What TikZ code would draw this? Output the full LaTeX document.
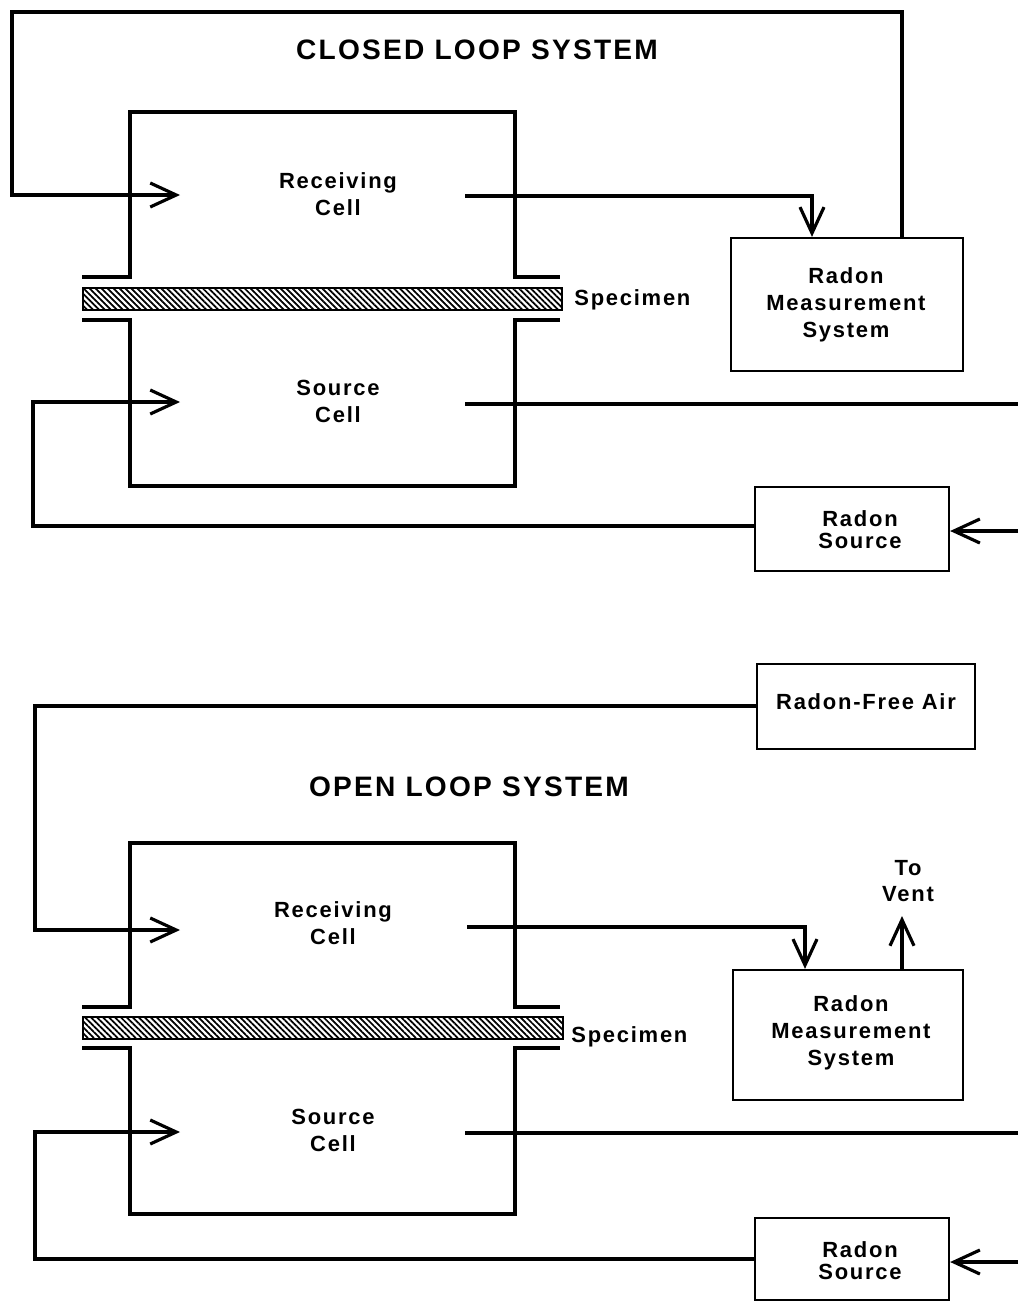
\documentclass[tikz,border=0pt]{standalone}
\usepackage{fontspec}
\setmainfont{Liberation Sans}[LetterSpace=8]
\usetikzlibrary{arrows.meta,patterns.meta}
\begin{document}
\begin{tikzpicture}[x=0.02cm,y=-0.02cm,
  wire/.style={line width=1.8pt, line join=miter},
  flow/.style={wire, -{Straight Barb[length=0.52cm,width=0.48cm]}},
  wall/.style={line width=1.8pt, line join=miter},
  box/.style={draw, line width=1.3pt, inner sep=0pt},
  lbl/.style={font=\fontsize{12.5pt}{15.3pt}\selectfont\bfseries, align=center, inner sep=0pt},
  ttl/.style={font=\fontsize{16pt}{19pt}\selectfont\bfseries, inner sep=0pt},
  spec/.style={draw, line width=1.2pt, pattern={Lines[angle=-45,distance=2.4pt,line width=1pt]}}
]
\useasboundingbox (0,0) rectangle (1018,1302);

% ================= CLOSED LOOP =================
\node[ttl] (t1) at (477,50) {CLOSED LOOP SYSTEM};

\draw[wall] (82,277) -- (130,277) -- (130,112) -- (515,112) -- (515,277) -- (560,277);
\draw[wall] (82,320) -- (130,320) -- (130,486) -- (515,486) -- (515,320) -- (560,320);
\draw[spec] (83,288) rectangle (562,310);
\node[lbl, anchor=west] (sp1) at (574,300) {Specimen};

\node[lbl] (rc1) at (338,194) {Receiving\\Cell};
\node[lbl] (sc1) at (338,401) {Source\\Cell};

\node[box, minimum width=4.64cm, minimum height=2.66cm] (ms1) at (847,304.5) {};
\node[lbl] (ms1t) at (846,305) {Radon\\Measurement\\System};

\node[box, minimum width=3.88cm, minimum height=1.68cm] (rs1) at (852,529) {};
\node[lbl, font=\fontsize{12.5pt}{12.5pt}\selectfont\bfseries] (rs1t) at (860,530) {Radon\\Source};

\coordinate (a1) at (180,195);
\coordinate (ro1) at (465,196);
\coordinate (b1) at (180,402);
\coordinate (so1) at (465,404);
\coordinate (e1) at (1018,404);
\coordinate (f1) at (1018,531);

\draw[flow] (ms1.north -| 902,0) -- (902,12) -- (12,12) -- (12,195) -- (a1);
\draw[flow] (ro1) -- (812,196) -- (ms1.north -| 812,0);
\draw[wire] (so1) -- (e1);
\draw[flow] (f1) -- (rs1.east |- f1);
\draw[flow] (rs1.west |- 0,526) -- (33,526) -- (33,402) -- (b1);

% ================= OPEN LOOP =================
\node[box, minimum width=4.36cm, minimum height=1.70cm] (rfa) at (866,706.5) {};
\node[lbl] (rfat) at (866,702) {Radon-Free Air};

\node[ttl] (t2) at (469,787) {OPEN LOOP SYSTEM};

\draw[wall] (82,1007) -- (130,1007) -- (130,843) -- (515,843) -- (515,1007) -- (560,1007);
\draw[wall] (82,1048) -- (130,1048) -- (130,1214) -- (515,1214) -- (515,1048) -- (560,1048);
\draw[spec] (83,1017) rectangle (563,1039);
\node[lbl, anchor=west] (sp2) at (571,1037) {Specimen};

\node[lbl] (rc2) at (333,923) {Receiving\\Cell};
\node[lbl] (sc2) at (333,1130) {Source\\Cell};

\node[box, minimum width=4.6cm, minimum height=2.6cm] (ms2) at (848,1035) {};
\node[lbl] (ms2t) at (851,1033) {Radon\\Measurement\\System};

\node[lbl] (vent) at (908,881) {To\\Vent};

\node[box, minimum width=3.88cm, minimum height=1.64cm] (rs2) at (852,1259) {};
\node[lbl, font=\fontsize{12.5pt}{12.5pt}\selectfont\bfseries] (rs2t) at (860,1261) {Radon\\Source};

\coordinate (a2) at (180,930);
\coordinate (ro2) at (467,927);
\coordinate (b2) at (180,1132);
\coordinate (so2) at (465,1133);
\coordinate (e2) at (1018,1133);
\coordinate (f2) at (1018,1262);
\coordinate (v2) at (902,916);

\draw[flow] (rfa.west |- 0,706) -- (35,706) -- (35,930) -- (a2);
\draw[flow] (ro2) -- (805,927) -- (ms2.north -| 805,0);
\draw[flow] (ms2.north -| 902,0) -- (v2);
\draw[wire] (so2) -- (e2);
\draw[flow] (f2) -- (rs2.east |- f2);
\draw[flow] (rs2.west |- 0,1259) -- (35,1259) -- (35,1132) -- (b2);
\end{tikzpicture}
\end{document}
